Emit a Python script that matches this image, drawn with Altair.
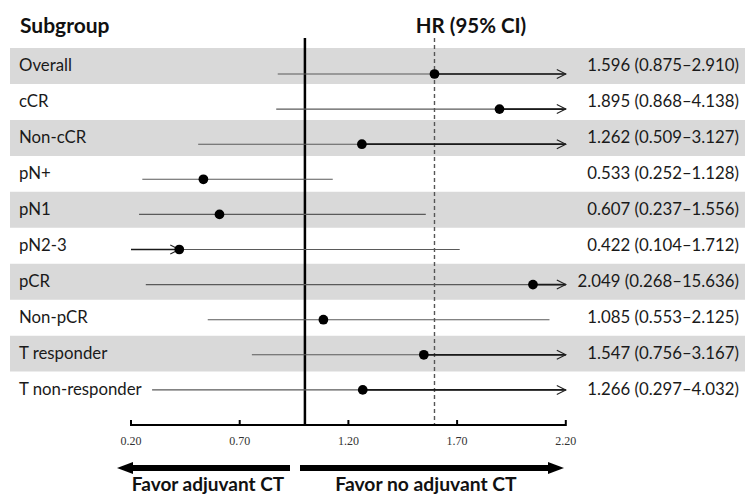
import altair as alt
import pandas as pd

# ---- data ----
subgroups = ["Overall", "cCR", "Non-cCR", "pN+", "pN1", "pN2-3", "pCR",
             "Non-pCR", "T responder", "T non-responder"]
hr = [1.596, 1.895, 1.262, 0.533, 0.607, 0.422, 2.049, 1.085, 1.547, 1.266]
lower = [0.875, 0.868, 0.509, 0.252, 0.237, 0.104, 0.268, 0.553, 0.756, 0.297]
upper = [2.910, 4.138, 3.127, 1.128, 1.556, 1.712, 15.636, 2.125, 3.167, 4.032]
tick_values = [0.20, 0.70, 1.20, 1.70, 2.20]
tick_labels = ["0.20", "0.70", "1.20", "1.70", "2.20"]
ref_value = 1.0
x_min, x_max = 0.20, 2.20

# ---- layout ----
W, H = 739, 486
PX_PER_UNIT = 217.4
X0_PX = 123
x_dom = [x_min - X0_PX / PX_PER_UNIT, x_min + (W - X0_PX) / PX_PER_UNIT]
xs = alt.Scale(domain=x_dom, nice=False, zero=False)
band_y = alt.Scale(domain=[-58 / 35.95, (H - 58) / 35.95], reverse=True, nice=False, zero=False)
line_y = alt.Scale(domain=[-66 / 35.1, (H - 66) / 35.1], reverse=True, nice=False, zero=False)

FONT = "Lato"
ROW_FS = 16.8

df = pd.DataFrame({"row": list(range(len(subgroups))), "subgroup": subgroups,
                   "hr": hr, "lower": lower, "upper": upper})
df["lo"] = df["lower"].clip(lower=x_min)
df["hi"] = df["upper"].clip(upper=x_max)
df["label"] = [f"{h:.3f} ({l:.3f}\u2013{u:.3f})" for h, l, u in zip(hr, lower, upper)]
df["shade"] = df["row"] % 2 == 0
df["r0"] = df["row"] - 0.5
df["r1"] = df["row"] + 0.5

base = alt.Chart(df)

bands = base.transform_filter(alt.datum.shade).mark_rect(color="#d9d9d9").encode(
    x=alt.value(2), x2=alt.value(737),
    y=alt.Y("r0:Q", scale=band_y, axis=None), y2="r1:Q")

names = base.mark_text(align="left", baseline="middle", font=FONT, fontSize=ROW_FS,
                       color="#1a1a1a").encode(
    x=alt.value(11), y=alt.Y("row:Q", scale=band_y, axis=None), text="subgroup:N")

values = base.mark_text(align="right", baseline="middle", font=FONT, fontSize=ROW_FS,
                        color="#1a1a1a").encode(
    x=alt.value(731), y=alt.Y("row:Q", scale=band_y, axis=None), text="label:N")

ci = base.mark_rule(color="#5a5a5a", strokeWidth=1.1).encode(
    x=alt.X("lo:Q", scale=xs, axis=None), x2="hi:Q",
    y=alt.Y("row:Q", scale=line_y, axis=None))

right_seg = base.transform_filter(alt.datum.upper > x_max).mark_rule(
    color="#1a1a1a", strokeWidth=1.7).encode(
    x=alt.X("hr:Q", scale=xs, axis=None), x2="hi:Q",
    y=alt.Y("row:Q", scale=line_y, axis=None))

right_head = base.transform_filter(alt.datum.upper > x_max).mark_point(
    shape="M-2,-1L0,0L-2,1", filled=False, size=81, color="#222222",
    strokeWidth=1.1, opacity=1).encode(
    x=alt.X("hi:Q", scale=xs, axis=None),
    y=alt.Y("row:Q", scale=line_y, axis=None))

left_seg = base.transform_filter(alt.datum.lower < x_min).mark_rule(
    color="#1a1a1a", strokeWidth=1.7).encode(
    x=alt.X("lo:Q", scale=xs, axis=None), x2="hr:Q",
    y=alt.Y("row:Q", scale=line_y, axis=None))

left_head = base.transform_filter(alt.datum.lower < x_min).mark_point(
    shape="M-2,-1L0,0L-2,1", filled=False, size=81, color="#222222",
    strokeWidth=1.1, opacity=1).encode(
    x=alt.X("hr:Q", scale=xs, axis=None),
    y=alt.Y("row:Q", scale=line_y, axis=None))

points = base.mark_circle(size=95, color="black", opacity=1).encode(
    x=alt.X("hr:Q", scale=xs, axis=None),
    y=alt.Y("row:Q", scale=line_y, axis=None))

ref = alt.Chart(pd.DataFrame({"v": [ref_value]})).mark_rule(
    color="black", strokeWidth=2.5).encode(
    x=alt.X("v:Q", scale=xs, axis=None), y=alt.value(30), y2=alt.value(417))

overall = alt.Chart(pd.DataFrame({"v": [hr[0]]})).mark_rule(
    color="#555555", strokeWidth=1.4, strokeDash=[4, 3]).encode(
    x=alt.X("v:Q", scale=xs, axis=None), y=alt.value(30), y2=alt.value(417))

axis_df = pd.DataFrame({"a": [x_min], "b": [x_max]})
axis_line = alt.Chart(axis_df).mark_rule(color="black", strokeWidth=2).encode(
    x=alt.X("a:Q", scale=xs, axis=None), x2="b:Q", y=alt.value(417))

ticks_df = pd.DataFrame({"t": tick_values, "lab": tick_labels})
ticks = alt.Chart(ticks_df).mark_rule(color="black", strokeWidth=2).encode(
    x=alt.X("t:Q", scale=xs, axis=None), y=alt.value(412), y2=alt.value(418))
tick_text = alt.Chart(ticks_df).mark_text(
    font="Liberation Serif", fontSize=12, color="#333333", baseline="middle").encode(
    x=alt.X("t:Q", scale=xs, axis=None), y=alt.value(433), text="lab:N")

hdr1 = alt.Chart(pd.DataFrame({"s": ["Subgroup"]})).mark_text(
    align="left", baseline="middle", font=FONT, fontSize=21, fontWeight="bold",
    color="#111").encode(x=alt.value(12), y=alt.value(19), text="s:N")
hdr2 = alt.Chart(pd.DataFrame({"s": ["HR (95% CI)"]})).mark_text(
    align="center", baseline="middle", font=FONT, fontSize=20.5, fontWeight="bold",
    color="#111").encode(x=alt.value(463), y=alt.value(19), text="s:N")

# bottom direction arrows
bar_l = alt.Chart(pd.DataFrame({"k": [0]})).mark_rule(color="black", strokeWidth=6).encode(
    x=alt.value(117), x2=alt.value(282), y=alt.value(460))
head_l = alt.Chart(pd.DataFrame({"k": [0]})).mark_point(
    shape="M-1,0L1,-0.75L1,0.75Z", filled=True, size=256, color="black", opacity=1).encode(
    x=alt.value(117), y=alt.value(460))
bar_r = alt.Chart(pd.DataFrame({"k": [0]})).mark_rule(color="black", strokeWidth=6).encode(
    x=alt.value(292), x2=alt.value(548), y=alt.value(460))
head_r = alt.Chart(pd.DataFrame({"k": [0]})).mark_point(
    shape="M1,0L-1,-0.75L-1,0.75Z", filled=True, size=256, color="black", opacity=1).encode(
    x=alt.value(548), y=alt.value(460))
fav_l = alt.Chart(pd.DataFrame({"s": ["Favor adjuvant CT"]})).mark_text(
    align="center", baseline="alphabetic", font=FONT, fontSize=19, fontWeight="bold",
    color="#111").encode(x=alt.value(200), y=alt.value(483), text="s:N")
fav_r = alt.Chart(pd.DataFrame({"s": ["Favor no adjuvant CT"]})).mark_text(
    align="center", baseline="alphabetic", font=FONT, fontSize=19.3, fontWeight="bold",
    color="#111").encode(x=alt.value(418), y=alt.value(483), text="s:N")

chart = alt.layer(
    bands, ref, overall, ci, right_seg, right_head, left_seg, left_head, points,
    names, values, axis_line, ticks, tick_text, hdr1, hdr2,
    bar_l, head_l, bar_r, head_r, fav_l, fav_r
).resolve_scale(y="independent").properties(
    width=W, height=H, padding=0, background="white"
).configure_view(stroke=None)

chart.save("out.html", embed_options={"renderer": "svg", "actions": False})
